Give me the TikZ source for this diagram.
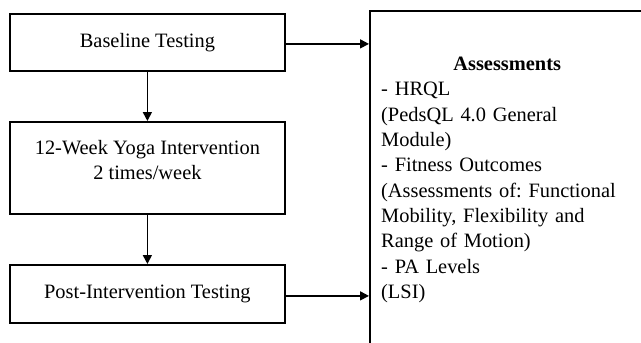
\documentclass[tikz,border=0pt]{standalone}
\usepackage{fontspec}
\setmainfont{Liberation Serif}
\usetikzlibrary{arrows.meta}
\begin{document}
\frenchspacing
\begin{tikzpicture}[x=1pt,y=-1pt,
  stagebox/.style={draw, line width=1.8pt, anchor=north west, minimum width=275pt, inner sep=0pt, align=center, font=\fontsize{20.4pt}{24.3pt}\selectfont},
  flow/.style={line width=1.6pt, -{Triangle[length=9pt,width=9pt]}}]
\clip (0,0) rectangle (641,343);
\fill[white] (0,0) rectangle (641,343);
\node[stagebox, minimum height=57pt] (b1) at (9,13) {Baseline Testing};
\node[stagebox, minimum height=92pt, text depth=16pt] (b2) at (9,121) {12-Week Yoga Intervention\\2 times/week};
\node[stagebox, minimum height=58pt] (b3) at (9,264) {Post-Intervention Testing};
\node[draw, line width=2pt, anchor=north west, minimum width=300pt, minimum height=360pt, inner sep=0pt] (r) at (369,10) {};
\node[anchor=north west, inner sep=0pt, text width=252pt, align=left, font=\fontsize{20.4pt}{25.3pt}\selectfont] (t) at (381,57)
 {\makebox[252pt]{\textbf{Assessments}}\\
  - HRQL\\
  (PedsQL 4.0 General\\
  Module)\\
  - Fitness Outcomes\\
  (Assessments of: Functional\\
  Mobility, Flexibility and\\
  Range of Motion)\\
  - PA Levels\\
  (LSI)};
\draw[flow] (b1.south) -- (b2.north);
\draw[flow] (b2.south) -- (b3.north);
\draw[flow] ([yshift=-1.5pt]b1.east) -- ([yshift=-1.5pt]b1.east -| r.west);
\draw[flow] ([yshift=-2pt]b3.east) -- ([yshift=-2pt]b3.east -| r.west);
\end{tikzpicture}
\end{document}
